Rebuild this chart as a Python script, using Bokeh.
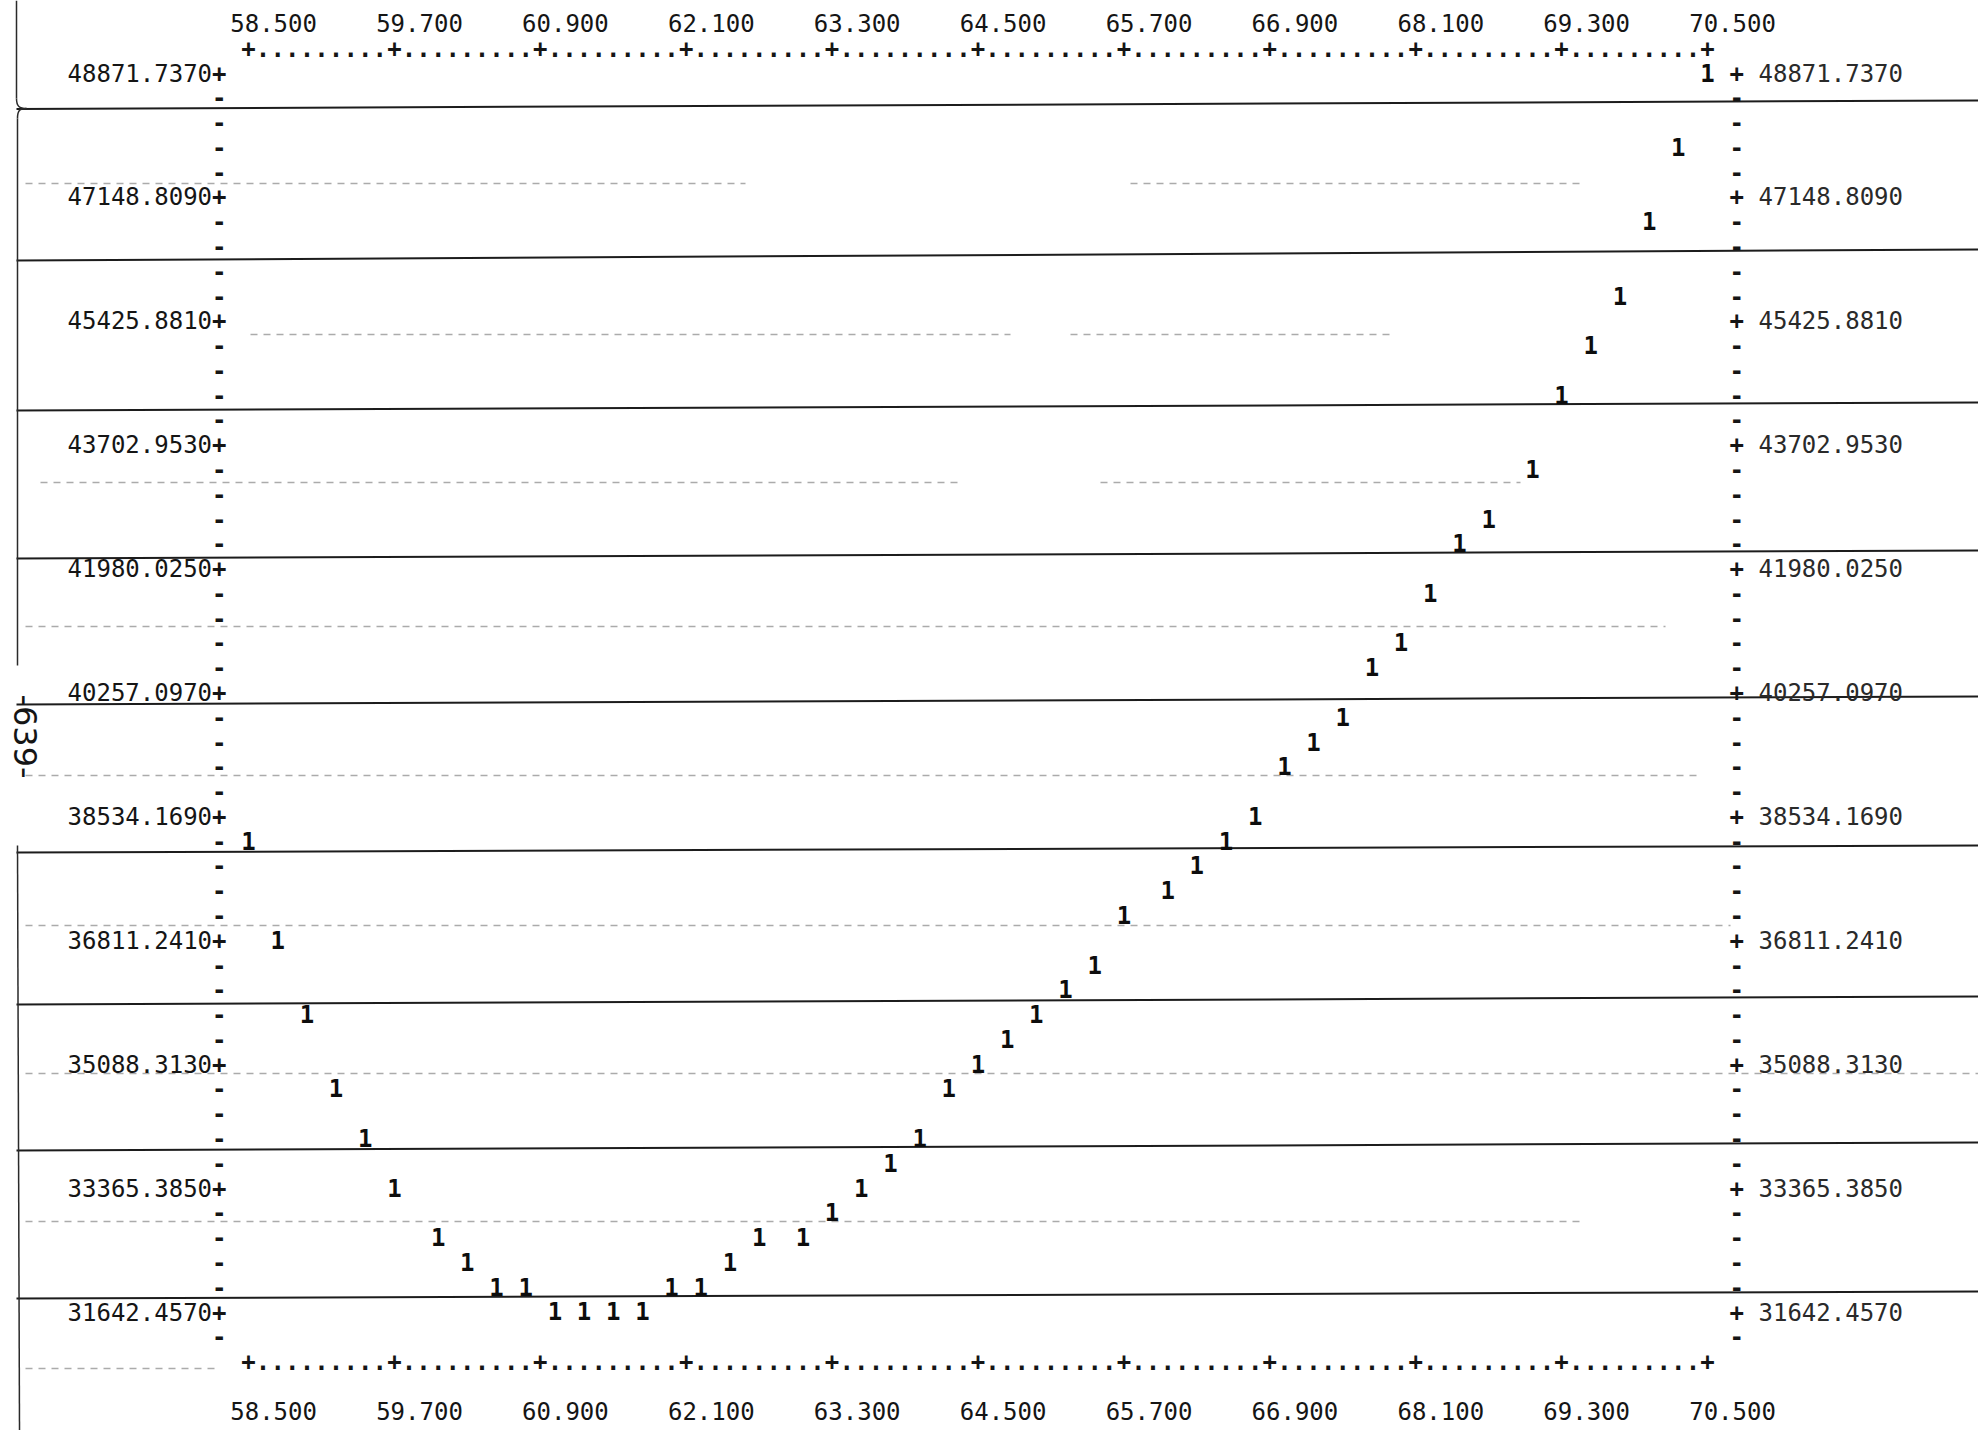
import math

from bokeh.core.properties import value
from bokeh.embed import file_html
from bokeh.models import ColumnDataSource, Range1d
from bokeh.plotting import figure
from bokeh.resources import INLINE

# ---- series (one printed "1" per observation) ----
x_vals = [58.50, 58.74, 58.98, 59.22, 59.46, 59.70, 60.06, 60.30, 60.54, 60.78,
          61.02, 61.26, 61.50, 61.74, 61.98, 62.22, 62.46, 62.70, 63.06, 63.30,
          63.54, 63.78, 64.02, 64.26, 64.50, 64.74, 64.98, 65.22, 65.46, 65.70,
          66.06, 66.30, 66.54, 66.78, 67.02, 67.26, 67.50, 67.74, 67.98, 68.22,
          68.46, 68.70, 69.06, 69.30, 69.54, 69.78, 70.02, 70.26, 70.50]
y_vals = [38189.6, 36811.2, 35777.5, 34743.7, 34054.6, 33365.4, 32676.2, 32331.6, 31987.0, 31987.0,
          31642.5, 31642.5, 31642.5, 31642.5, 31987.0, 31987.0, 32331.6, 32676.2, 32676.2, 33020.8,
          33365.4, 33710.0, 34054.6, 34743.7, 35088.3, 35432.9, 35777.5, 36122.1, 36466.7, 37155.8,
          37500.4, 37845.0, 38189.6, 38534.2, 39223.3, 39567.9, 39912.5, 40601.7, 40946.3, 41635.4,
          42324.6, 42669.2, 43358.4, 44392.1, 45081.3, 45770.5, 46804.2, 47838.0, 48871.7]

# ---- scale ticks and their printed labels ----
x_ticks = [58.5, 59.7, 60.9, 62.1, 63.3, 64.5, 65.7, 66.9, 68.1, 69.3, 70.5]
x_tick_labels = ["58.500", "59.700", "60.900", "62.100", "63.300", "64.500",
                 "65.700", "66.900", "68.100", "69.300", "70.500"]
y_ticks = [48871.737, 47148.809, 45425.881, 43702.953, 41980.025, 40257.097,
           38534.169, 36811.241, 35088.313, 33365.385, 31642.457]
y_tick_labels = ["48871.7370", "47148.8090", "45425.8810", "43702.9530", "41980.0250",
                 "40257.0970", "38534.1690", "36811.2410", "35088.3130", "33365.3850",
                 "31642.4570"]

# ---- printer geometry ----
W, H = 1978, 1430
CHAR = (x_ticks[1] - x_ticks[0]) / 10      # one print column
ROW = (y_ticks[0] - y_ticks[1]) / 5        # one print line
PX_X = 121.58                              # pixels per x unit
PX_ROW = 24.78                             # pixels per print line
Y_PER_PX = ROW / PX_ROW

x_start = x_ticks[0] - 248 / PX_X
x_end = x_start + W / PX_X
y_end = y_ticks[0] + 72 * Y_PER_PX
y_start = y_end - H * Y_PER_PX


def dx(px):
    return x_start + px / PX_X


def dy(py):
    return y_end - py * Y_PER_PX


FONT = value("DejaVu Sans Mono")
INK = "#151515"
FS = "24px"

p = figure(width=W, height=H, output_backend="svg", toolbar_location=None,
           x_range=Range1d(x_start, x_end), y_range=Range1d(y_start, y_end),
           x_axis_location=None, y_axis_location=None, min_border=0)
p.grid.visible = False
p.outline_line_color = None
p.background_fill_color = "white"
p.border_fill_color = "white"

# ---- continuous-form paper: fold rules (slightly skewed) and faint guide lines ----
rule_left = [108.5, 260, 410, 558, 704, 852, 1004, 1150, 1298]
rule_right = [100, 249, 402, 550, 696, 845, 996, 1142, 1291]
p.segment(x0=[dx(16)] * len(rule_left), x1=[dx(W)] * len(rule_left),
          y0=[dy(v) for v in rule_left], y1=[dy(v) for v in rule_right],
          line_color="#1c1c1c", line_width=2)

guide = [(183, 25, 745), (183, 1130, 1580), (334, 250, 1010), (334, 1070, 1390),
         (482, 40, 960), (482, 1100, 1520), (626, 25, 1665), (775, 25, 1700),
         (925, 25, 1730), (1073, 25, W), (1221, 25, 1580), (1368, 25, 220)]
p.segment(x0=[dx(g[1]) for g in guide], x1=[dx(g[2]) for g in guide],
          y0=[dy(g[0]) for g in guide], y1=[dy(g[0]) for g in guide],
          line_color="#666666", line_alpha=0.55, line_width=1.5, line_dash="7 6")

# left paper edge, with the bracket where the first fold meets it
edge = [(16, 0, 16, 98), (17, 118, 17, 665), (17, 845, 19, H)]
p.segment(x0=[dx(e[0]) for e in edge], y0=[dy(e[1]) for e in edge],
          x1=[dx(e[2]) for e in edge], y1=[dy(e[3]) for e in edge],
          line_color="#2a2a2a", line_width=1.5)
p.bezier(x0=[dx(16), dx(17)], y0=[dy(98), dy(118)],
         x1=[dx(26), dx(26)], y1=[dy(108), dy(108)],
         cx0=[dx(16), dx(17)], cy0=[dy(106), dy(110)],
         cx1=[dx(19), dx(19)], cy1=[dy(108), dy(108)],
         line_color="#2a2a2a", line_width=1.5)

# page number stamped along the margin
p.text(x=[dx(25)], y=[dy(736)], text=["-639-"], angle=-math.pi / 2,
       text_font=value("DejaVu Sans"), text_font_size="32px",
       text_align="center", text_baseline="middle", text_color=INK)

# ---- printed frame: "+....+" rows top and bottom ----
n_cols = int(round((x_ticks[-1] - x_ticks[0]) / CHAR))
fx, fy, ft = [], [], []
for yrow in (y_ticks[0] + ROW, y_ticks[-1] - 2 * ROW):
    for i in range(n_cols + 1):
        fx.append(x_ticks[0] + i * CHAR)
        fy.append(yrow)
        ft.append("+" if i % 10 == 0 else ".")
p.text(x=fx, y=fy, text=ft, text_font=FONT, text_font_size=FS,
       text_font_style="bold", text_align="center", text_baseline="middle",
       text_color=INK)

# side borders: "+" on labelled lines, "-" on the others
n_rows = int(round((y_ticks[0] - y_ticks[-1]) / ROW)) + 1
bx, by, bt = [], [], []
for xcol in (x_ticks[0] - 2 * CHAR, x_ticks[-1] + 2 * CHAR):
    for r in range(n_rows + 1):
        bx.append(xcol)
        by.append(y_ticks[0] - r * ROW)
        bt.append("+" if (r % 5 == 0 and r < n_rows) else "-")
p.text(x=bx, y=by, text=bt, text_font=FONT, text_font_size=FS,
       text_font_style="bold", text_align="center", text_baseline="middle",
       text_color=INK)

# ---- tick labels ----
for yrow in (y_ticks[0] + 2 * ROW, y_ticks[-1] - 4 * ROW):
    p.text(x=[t - 1.25 * CHAR for t in x_ticks], y=[yrow] * len(x_ticks),
           text=x_tick_labels, text_font=FONT, text_font_size=FS,
           text_align="left", text_baseline="middle", text_color=INK)

p.text(x=[x_ticks[0] - 2.5 * CHAR] * len(y_ticks), y=y_ticks, text=y_tick_labels,
       text_font=FONT, text_font_size=FS, text_align="right",
       text_baseline="middle", text_color=INK)
p.text(x=[x_ticks[-1] + 3.5 * CHAR] * len(y_ticks), y=y_ticks, text=y_tick_labels,
       text_font=FONT, text_font_size=FS, text_align="left",
       text_baseline="middle", text_color="#2a2a2a")

# ---- the series ----
src = ColumnDataSource(dict(x=x_vals, y=y_vals, s=["1"] * len(x_vals)))
p.text(x="x", y="y", text="s", source=src, text_font=FONT, text_font_size=FS,
       text_font_style="bold", text_align="center", text_baseline="middle",
       text_color="#0d0d0d")

open("out.html", "w").write(file_html(p, INLINE))
